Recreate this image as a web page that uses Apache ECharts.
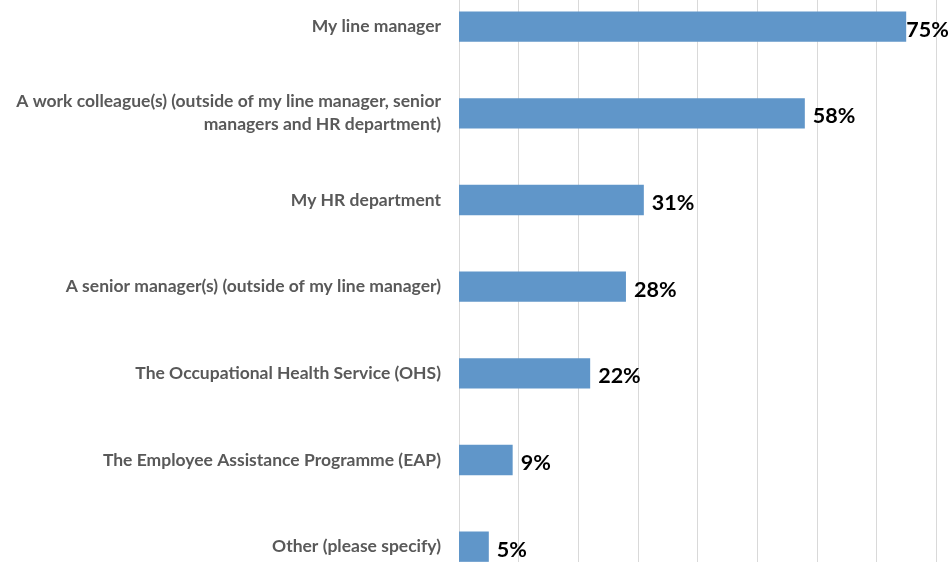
<!DOCTYPE html>
<html>
<head>
<meta charset="utf-8">
<script src="https://cdn.jsdelivr.net/npm/echarts@6/dist/echarts.min.js"></script>
<style>
  html, body { margin: 0; padding: 0; background: #fff; }
  #chart { width: 949px; height: 562px; }
</style>
</head>
<body>
<div id="chart"></div>
<script>
// categories top to bottom
var categories = [
  'My line manager',
  'A work colleague(s) (outside of my line manager, senior\nmanagers and HR department)',
  'My HR department',
  'A senior manager(s) (outside of my line manager)',
  'The Occupational Health Service (OHS)',
  'The Employee Assistance Programme (EAP)',
  'Other (please specify)'
];
var values = [75, 58, 31, 28, 22, 9, 5];

var chart = echarts.init(document.getElementById('chart'));

var option = {
  animation: false,
  grid: {
    left: 459,
    right: 13,
    top: -16.7,
    height: 606.7,
    outerBoundsMode: 'none',
    containLabel: false
  },
  xAxis: {
    type: 'value',
    min: 0,
    max: 80,
    interval: 10,
    axisLabel: { show: false },
    axisLine: { show: false },
    axisTick: { show: false },
    splitLine: { show: true, lineStyle: { color: '#d9d9d9', width: 1 } }
  },
  yAxis: {
    type: 'category',
    inverse: true,
    data: categories,
    axisLine: { show: false },
    axisTick: { show: false },
    axisLabel: {
      margin: 18,
      color: '#595959',
      fontFamily: 'Lato',
      fontWeight: 'bold',
      fontSize: 17.5,
      lineHeight: 23,
      align: 'right'
    }
  },
  series: [{
    type: 'bar',
    data: values.map(function (v, i) {
      return {
        value: v,
        label: { distance: i === 0 ? 0 : 8 }
      };
    }),
    barCategoryGap: '65%',
    itemStyle: { color: '#6096c9' },
    label: {
      show: true,
      position: 'right',
      offset: [0, 3],
      formatter: '{c}%',
      color: '#000',
      fontFamily: 'Lato',
      fontWeight: 'bold',
      fontSize: 21.5
    }
  }]
};

chart.setOption(option);
window.onresize = chart.resize;
</script>
</body>
</html>
